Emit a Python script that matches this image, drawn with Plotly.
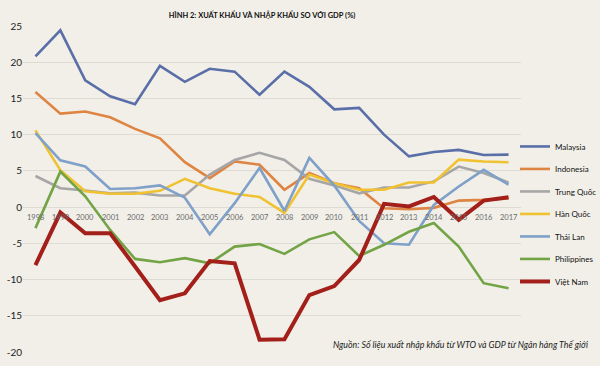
import plotly.graph_objects as go

years = list(range(1998, 2018))
year_labels = [str(y) for y in years]

malaysia = [20.8, 24.4, 17.5, 15.3, 14.2, 19.5, 17.3, 19.1, 18.7, 15.5, 18.7, 16.6, 13.5, 13.7, 10.0, 7.0, 7.6, 7.9, 7.2, 7.25]
indonesia = [15.9, 12.9, 13.2, 12.4, 10.8, 9.5, 6.2, 4.0, 6.3, 5.85, 2.4, 4.7, 3.3, 2.6, -0.15, -0.3, -0.1, 0.9, 1.0, 1.2]
trung_quoc = [4.3, 2.6, 2.3, 1.9, 2.0, 1.6, 1.6, 4.5, 6.5, 7.5, 6.5, 3.9, 3.0, 1.9, 2.7, 2.7, 3.55, 5.6, 4.7, 3.4]
han_quoc = [10.6, 5.1, 2.2, 1.85, 1.85, 2.25, 3.9, 2.6, 1.85, 1.4, -0.8, 4.5, 3.3, 2.4, 2.4, 3.4, 3.4, 6.55, 6.3, 6.2]
thai_lan = [10.2, 6.45, 5.6, 2.5, 2.6, 3.0, 1.3, -3.75, 0.55, 5.4, -0.5, 6.8, 3.0, -1.9, -5.0, -5.2, 0.3, 2.85, 5.15, 3.1]
philippines = [-2.9, 4.9, 1.5, -3.15, -7.15, -7.6, -7.05, -7.75, -5.45, -5.1, -6.45, -4.45, -3.45, -6.75, -5.2, -3.4, -2.2, -5.45, -10.5, -11.2]
viet_nam = [-8.0, -0.75, -3.6, -3.6, -8.2, -12.85, -11.9, -7.45, -7.75, -18.3, -18.25, -12.15, -10.9, -7.3, 0.45, 0.1, 1.4, -1.75, 0.9, 1.35]

y_ticks = [25, 20, 15, 10, 5, 0, -5, -10, -15, -20]

series = [
    ("Malaysia", malaysia, "#5a6ea8", 2.6),
    ("Indonesia", indonesia, "#de8543", 2.6),
    ("Trung Quốc", trung_quoc, "#a6a6a6", 2.6),
    ("Hàn Quốc", han_quoc, "#f0c231", 2.6),
    ("Thái Lan", thai_lan, "#7fa0c8", 2.6),
    ("Philippines", philippines, "#72a446", 2.6),
    ("Việt Nam", viet_nam, "#a31f1a", 4.0),
]

fig = go.Figure()
for name, vals, color, w in series:
    fig.add_trace(go.Scatter(
        x=years, y=vals, mode="lines", name=name, legendgroup=name,
        line=dict(color=color, width=w),
    ))

bg = "#f1efe8"
grid = "#dddbd3"
font_main = "Lato, Roboto, sans-serif"

W, H = 600, 366
L, R, T, B = 23, 79, 26, 14
plot_w = W - L - R
plot_h = H - T - B

fig.update_layout(
    width=W, height=H,
    paper_bgcolor=bg, plot_bgcolor=bg,
    margin=dict(l=L, r=R, t=T, b=B, autoexpand=False),
    showlegend=True,
    legend=dict(
        x=(515 - L) / plot_w, xanchor="left", y=0.675, yanchor="top",
        font=dict(family=font_main, size=8, color="#111111"),
        itemwidth=30, tracegroupgap=3.5, bgcolor="rgba(0,0,0,0)",
    ),
    xaxis=dict(
        range=[1997.5, 2017.5], showticklabels=False, showgrid=False,
        zeroline=False, showline=False, ticks="", automargin=False,
    ),
    yaxis=dict(
        range=[-20, 25], tickvals=y_ticks, ticktext=[str(v) for v in y_ticks],
        showgrid=True, gridcolor=grid, gridwidth=1,
        zeroline=True, zerolinecolor=grid, zerolinewidth=1,
        showline=False, ticks="", automargin=False,
        tickfont=dict(family=font_main, size=10, color="#222222"),
    ),
    title=dict(
        text="<b>HÌNH 2: XUẤT KHẨU VÀ NHẬP KHẨU SO VỚI GDP (%)</b>",
        x=262 / W, xanchor="center", y=1 - 15 / H, yanchor="middle",
        font=dict(family=font_main, size=7.5, color="#111111"),
    ),
)

for yr, lab in zip(years, year_labels):
    fig.add_annotation(
        x=yr, y=0, xref="x", yref="y", text=lab, showarrow=False,
        yanchor="top", yshift=-4,
        font=dict(family=font_main, size=7.5, color="#6b6b6b"),
    )

fig.add_annotation(
    x=(590 - L) / plot_w, y=(H - B - 344) / plot_h, xref="paper", yref="paper",
    xanchor="right", yanchor="middle", showarrow=False,
    text="<i>Nguồn: Số liệu xuất nhập khẩu từ WTO và GDP từ Ngân hàng Thế giới</i>",
    font=dict(family=font_main, size=8.8, color="#222222"),
)

fig.write_html(
    "out.html",
    config={"displayModeBar": False},
    post_script="document.body.style.margin='0';document.body.style.background='#f1efe8';",
)
